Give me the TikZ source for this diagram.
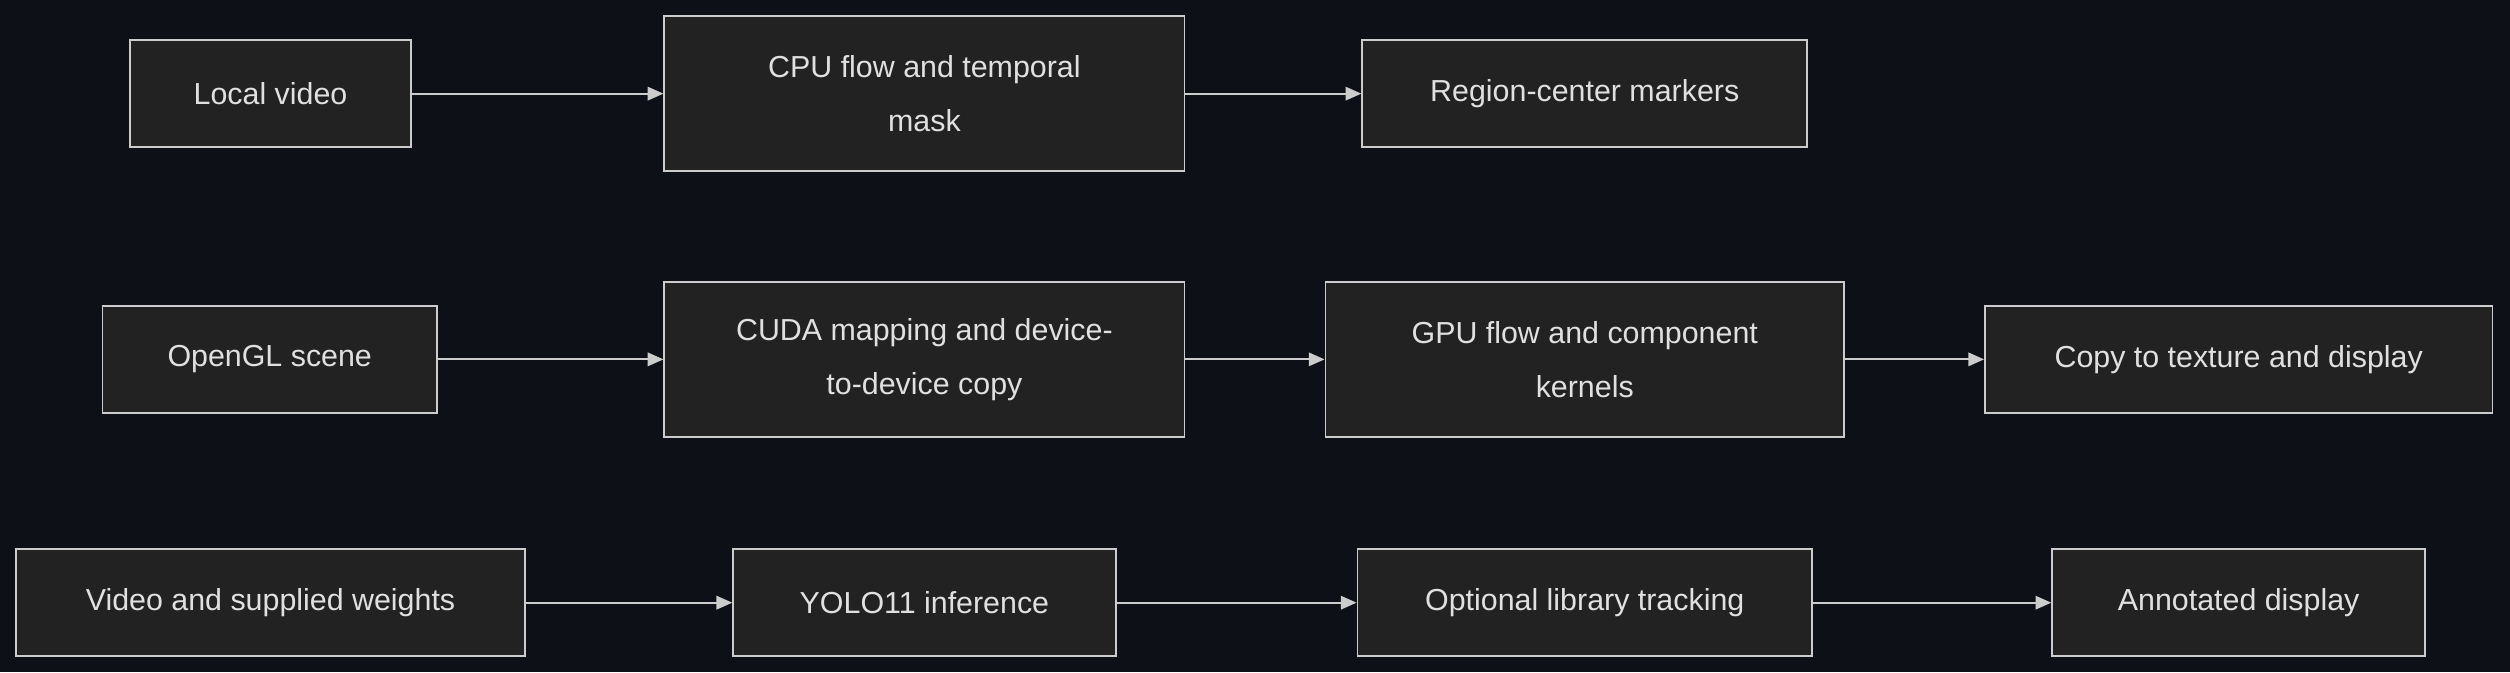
\documentclass[tikz,border=0pt]{standalone}
\usepackage{fontspec}
\setmainfont{Liberation Sans}
\usetikzlibrary{arrows.meta}
\definecolor{bgdark}{HTML}{0D1117}
\definecolor{boxfill}{HTML}{222222}
\definecolor{boxline}{HTML}{CCCCCC}
\definecolor{boxtext}{HTML}{E0E0E0}
\tikzset{
  box/.style={draw=boxline, fill=boxfill, text=boxtext, line width=0.8pt,
    align=center, inner sep=0pt, font=\fontsize{13.5}{24}\selectfont},
  flow/.style={draw=boxline, line width=0.8pt, -{Triangle[length=7pt,width=6pt]}}
}
\begin{document}
\begin{tikzpicture}[x=0.025cm,y=-0.025cm]
  \fill[bgdark] (0,0) rectangle (1568,420);
  \useasboundingbox (0,0) rectangle (1568,420);

  % first row
  \node[box, minimum width=176*0.025cm, minimum height=67*0.025cm] (video) at (169,58.5) {Local video};
  \node[box, minimum width=325*0.025cm, minimum height=97*0.025cm] (cpuflow) at (577.5,58.5) {CPU flow and temporal\\mask};
  \node[box, minimum width=278*0.025cm, minimum height=67*0.025cm] (markers) at (990,58.5) {Region-center markers};
  \draw[flow] (video) -- (cpuflow);
  \draw[flow] (cpuflow) -- (markers);

  % second row
  \node[box, minimum width=209*0.025cm, minimum height=67*0.025cm] (scene) at (168.5,224.5) {OpenGL scene};
  \node[box, minimum width=325*0.025cm, minimum height=97*0.025cm] (cudamap) at (577.5,224.5) {CUDA mapping and device-\\to-device copy};
  \node[box, minimum width=324*0.025cm, minimum height=97*0.025cm] (gpuflow) at (990,224.5) {GPU flow and component\\kernels};
  \node[box, minimum width=317*0.025cm, minimum height=67*0.025cm] (texture) at (1398.5,224.5) {Copy to texture and display};
  \draw[flow] (scene) -- (cudamap);
  \draw[flow] (cudamap) -- (gpuflow);
  \draw[flow] (gpuflow) -- (texture);

  % third row
  \node[box, minimum width=318*0.025cm, minimum height=67*0.025cm] (weights) at (169,376.5) {Video and supplied weights};
  \node[box, minimum width=239*0.025cm, minimum height=67*0.025cm] (yolo) at (577.5,376.5) {YOLO11 inference};
  \node[box, minimum width=284*0.025cm, minimum height=67*0.025cm] (tracking) at (990,376.5) {Optional library tracking};
  \node[box, minimum width=233*0.025cm, minimum height=67*0.025cm] (annotated) at (1398.5,376.5) {Annotated display};
  \draw[flow] (weights) -- (yolo);
  \draw[flow] (yolo) -- (tracking);
  \draw[flow] (tracking) -- (annotated);
\end{tikzpicture}
\end{document}
